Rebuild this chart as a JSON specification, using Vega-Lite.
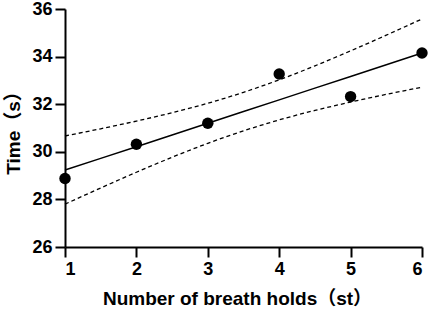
{
  "$schema": "https://vega.github.io/schema/vega-lite/v6.json",
  "width": 357,
  "height": 238,
  "autosize": {"type": "none"},
  "padding": {"left": 65, "top": 9, "right": 7, "bottom": 64},
  "background": "white",
  "config": {
    "view": {"stroke": null},
    "axis": {
      "grid": false,
      "domainColor": "black",
      "domainWidth": 2,
      "tickColor": "black",
      "tickWidth": 2,
      "tickSize": 10,
      "labelFont": "Liberation Sans",
      "labelFontWeight": "bold",
      "labelFontSize": 18,
      "labelColor": "black",
      "titleFont": "Liberation Sans, Noto Sans CJK SC",
      "titleFontWeight": "bold",
      "titleFontSize": 19,
      "titleColor": "black"
    }
  },
  "datasets": {
    "points": [
      {"holds": 1, "time": 28.88},
      {"holds": 2, "time": 30.32},
      {"holds": 3, "time": 31.2},
      {"holds": 4, "time": 33.27},
      {"holds": 5, "time": 32.32},
      {"holds": 6, "time": 34.15}
    ],
    "band": [
      {"holds": 1, "fit": 29.232, "upper": 30.664, "lower": 27.8},
      {"holds": 1.5, "fit": 29.724, "upper": 30.968, "lower": 28.48},
      {"holds": 2, "fit": 30.215, "upper": 31.29, "lower": 29.14},
      {"holds": 2.5, "fit": 30.707, "upper": 31.643, "lower": 29.771},
      {"holds": 3, "fit": 31.198, "upper": 32.04, "lower": 30.356},
      {"holds": 3.5, "fit": 31.69, "upper": 32.498, "lower": 30.882},
      {"holds": 4, "fit": 32.182, "upper": 33.024, "lower": 31.34},
      {"holds": 4.5, "fit": 32.674, "upper": 33.61, "lower": 31.738},
      {"holds": 5, "fit": 33.165, "upper": 34.24, "lower": 32.09},
      {"holds": 5.5, "fit": 33.657, "upper": 34.901, "lower": 32.413},
      {"holds": 6, "fit": 34.148, "upper": 35.58, "lower": 32.716}
    ]
  },
  "layer": [
    {
      "data": {"name": "band"},
      "mark": {"type": "line", "color": "black", "strokeWidth": 1.3, "strokeDash": [4, 3], "interpolate": "monotone"},
      "encoding": {
        "x": {"field": "holds", "type": "quantitative", "scale": {"domain": [1, 6], "nice": false}, "axis": {"values": [1, 2, 3, 4, 5, 6], "format": "d", "title": "Number of breath holds（st）", "titlePadding": 11, "titleX": 172, "labelPadding": 3}},
        "y": {"field": "upper", "type": "quantitative", "scale": {"domain": [26, 36], "nice": false, "zero": false}, "axis": {"values": [26, 28, 30, 32, 34, 36], "format": "d", "title": "Time（s）", "titlePadding": 8, "labelPadding": 3}}
      }
    },
    {
      "data": {"name": "band"},
      "mark": {"type": "line", "color": "black", "strokeWidth": 1.3, "strokeDash": [4, 3], "interpolate": "monotone"},
      "encoding": {
        "x": {"field": "holds", "type": "quantitative"},
        "y": {"field": "lower", "type": "quantitative"}
      }
    },
    {
      "data": {"name": "band"},
      "mark": {"type": "line", "color": "black", "strokeWidth": 1.5},
      "encoding": {
        "x": {"field": "holds", "type": "quantitative"},
        "y": {"field": "fit", "type": "quantitative"}
      }
    },
    {
      "data": {"name": "points"},
      "mark": {"type": "point", "filled": true, "color": "black", "opacity": 1, "size": 130},
      "encoding": {
        "x": {"field": "holds", "type": "quantitative"},
        "y": {"field": "time", "type": "quantitative"}
      }
    }
  ]
}
